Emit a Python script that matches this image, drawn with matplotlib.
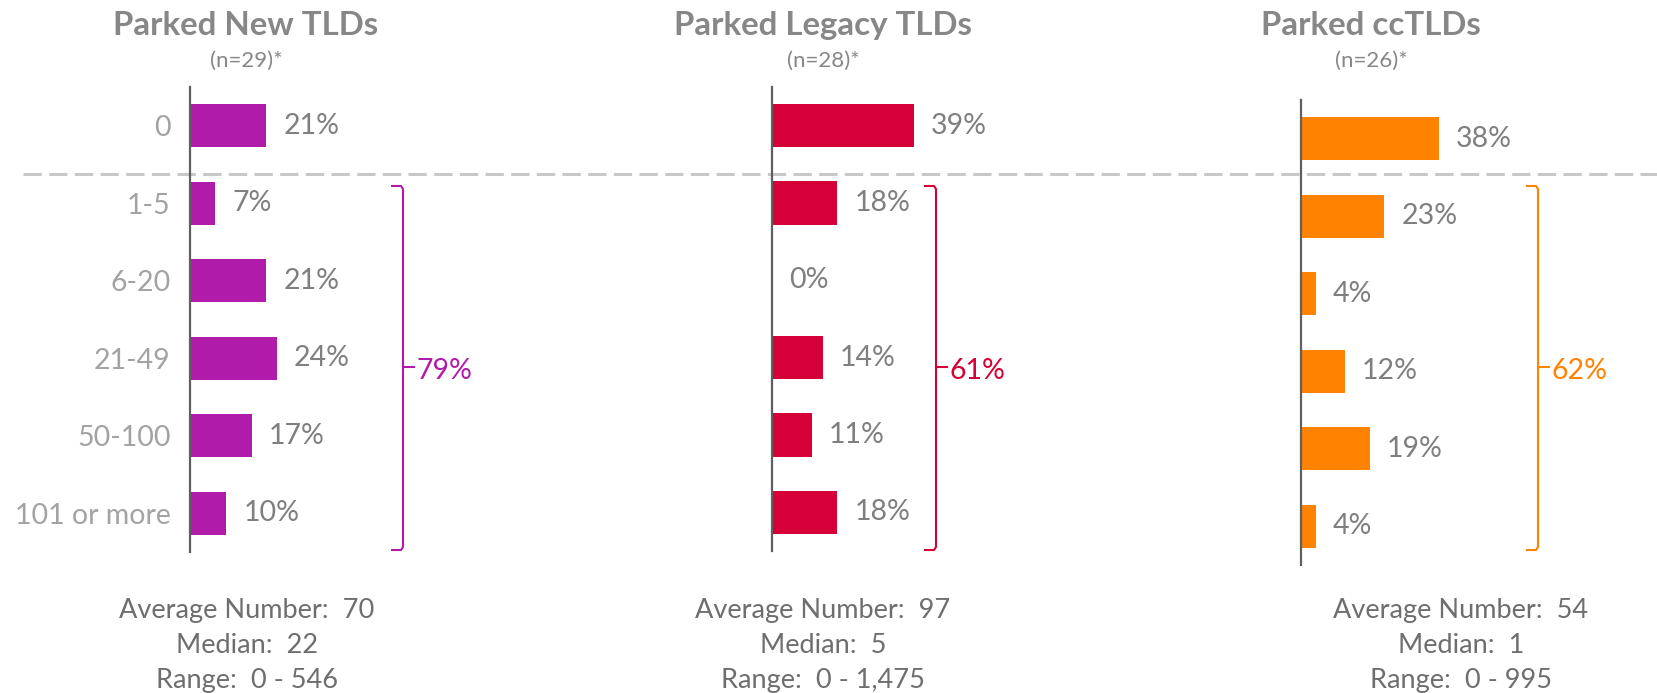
import matplotlib
matplotlib.use("Agg")
import matplotlib.pyplot as plt
from matplotlib.lines import Line2D

plt.rcParams['font.family'] = ['Lato', 'DejaVu Sans']

W, H = 1658, 693  # figure size in pixels

categories = ["0", "1-5", "6-20", "21-49", "50-100", "101 or more"]

titles = ["Parked New TLDs", "Parked Legacy TLDs", "Parked ccTLDs"]
sample_sizes = [29, 28, 26]
new_tlds = [21, 7, 21, 24, 17, 10]
legacy_tlds = [39, 18, 0, 14, 11, 18]
cc_tlds = [38, 23, 4, 12, 19, 4]
averages = ["70", "97", "54"]
medians = ["22", "5", "1"]
ranges = ["0 - 546", "0 - 1,475", "0 - 995"]

series = [new_tlds, legacy_tlds, cc_tlds]
colors = ["#B01CA9", "#D50037", "#FF8300"]

# layout in pixels (left of axis, top, bottom), bracket x, title centre, footer centre
axis_left = [190, 772, 1301]
axis_top = [87, 87, 100]
axis_bottom = [552, 551, 565]
bracket_x = [403, 936, 1538]
title_cx = [246, 823, 1371]
footer_cx = [247, 823, 1461]

px_per_pct = 3.63
xmax = 60

TITLE_C = "#878787"
VALUE_C = "#7F7F7F"
CAT_C = "#A3A3A3"
FOOT_C = "#6E6E6E"
LABEL_FS = 20.5


def fx(x):
    return x / W


def fy(y):
    return 1 - y / H


fig = plt.figure(figsize=(W / 100, H / 100), dpi=100)

# dashed separator between "0" and the rest
fig.add_artist(Line2D([fx(23), fx(W)], [fy(174), fy(174)], color="#C8C8C8",
                      lw=2.2, linestyle=(0, (6, 2.4)), zorder=0))

for k in range(3):
    vals = series[k]
    left, top, bottom = axis_left[k], axis_top[k], axis_bottom[k]
    width = xmax * px_per_pct
    ax = fig.add_axes([fx(left), fy(bottom), width / W, (bottom - top) / H])
    ax.patch.set_alpha(0)
    ypos = list(range(len(categories)))
    ax.barh(ypos, vals, height=0.56, color=colors[k])
    ax.set_xlim(0, xmax)
    ax.set_ylim(len(categories) - 0.5, -0.5)
    for s in ["top", "right", "bottom"]:
        ax.spines[s].set_visible(False)
    ax.spines["left"].set_color("#5F5F5F")
    ax.spines["left"].set_linewidth(1.6)
    ax.set_xticks([])
    ax.tick_params(axis="y", length=0, pad=14)
    ax.set_yticks(ypos)
    if k == 0:
        ax.set_yticklabels(categories, fontsize=LABEL_FS, color=CAT_C)
    else:
        ax.set_yticklabels([])
    for i, v in enumerate(vals):
        ax.text(v + 17 / px_per_pct, i, f"{v}%", va="center", ha="left",
                fontsize=LABEL_FS, color=VALUE_C, clip_on=False)

    # bracket around the non-zero groups
    bx = bracket_x[k]
    btop, bbot, bmid = 186, 550, 367
    xs = [bx - 11, bx - 2, bx, bx, bx - 2, bx - 11]
    ys = [btop, btop, btop + 3, bbot - 3, bbot, bbot]
    fig.add_artist(Line2D([fx(x) for x in xs], [fy(y) for y in ys],
                          color=colors[k], lw=1.5))
    fig.add_artist(Line2D([fx(bx), fx(bx + 11)], [fy(bmid), fy(bmid)],
                          color=colors[k], lw=1.5))
    total = sum(vals[1:])
    fig.text(fx(bx + 14), fy(371), f"{total}%", ha="left", va="center",
             fontsize=LABEL_FS, color=colors[k])

    # headings
    fig.text(fx(title_cx[k]), fy(35), titles[k], ha="center", va="baseline",
             fontsize=23.8, fontweight="bold", color=TITLE_C)
    fig.text(fx(title_cx[k]), fy(67), f"(n={sample_sizes[k]})*", ha="center",
             va="baseline", fontsize=16, color=TITLE_C)

    # summary stats under each panel
    lines = [f"Average Number:  {averages[k]}", f"Median:  {medians[k]}",
             f"Range:  {ranges[k]}"]
    for j, line in enumerate(lines):
        fig.text(fx(footer_cx[k]), fy(618 + 35 * j), line, ha="center",
                 va="baseline", fontsize=19.5, color=FOOT_C)

fig.savefig("out.png", dpi=100)
